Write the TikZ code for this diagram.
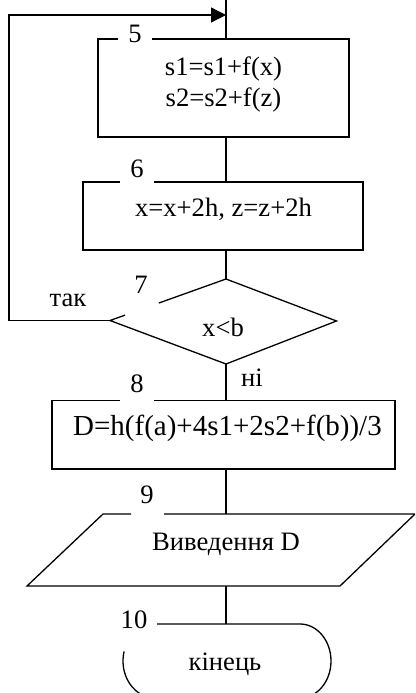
\documentclass[tikz,border=0pt]{standalone}
\usepackage{fontspec}
\setmainfont{Liberation Serif}
\usetikzlibrary{arrows.meta,calc}
\begin{document}
\begin{tikzpicture}[x=1pt,y=-1pt,line width=1.3pt,line join=miter,
  txt/.style={anchor=base,inner sep=0pt,font=\fontsize{26.6}{31}\selectfont},
  bigtxt/.style={anchor=base,inner sep=0pt,font=\fontsize{29}{34}\selectfont},
  flow/.style={draw},
  loopback/.style={-{Triangle[length=15pt,width=15pt]}}]
\clip (0,0) rectangle (415,693);
% named coordinates
\coordinate (top) at (226,0);
\coordinate (join) at (226,15);
% block 5
\coordinate (b5nw) at (98,39);  \coordinate (b5ne) at (349,39);
\coordinate (b5sw) at (98,137); \coordinate (b5se) at (349,137);
\coordinate (b5n) at (226,39);  \coordinate (b5s) at (226,137);
% block 6
\coordinate (b6nw) at (83,182);  \coordinate (b6ne) at (363,182);
\coordinate (b6sw) at (83,250);  \coordinate (b6se) at (363,250);
\coordinate (b6n) at (226,182);  \coordinate (b6s) at (226,250);
% decision 7
\coordinate (d7t) at (226,279);  \coordinate (d7l) at (110,320.5);
\coordinate (d7r) at (336.5,321);\coordinate (d7b) at (226,364);
\coordinate (loopc) at (9,320.5);
% block 8
\coordinate (b8nw) at (52,400.7); \coordinate (b8ne) at (395,400.7);
\coordinate (b8sw) at (52,469);   \coordinate (b8se) at (395,469);
\coordinate (b8n) at (226,400.7); \coordinate (b8s) at (226,469);
% output 9
\coordinate (p9tl) at (103,514); \coordinate (p9tr) at (415,514);
\coordinate (p9br) at (340,586); \coordinate (p9bl) at (27,586);
\coordinate (p9n) at (226,514);  \coordinate (p9s) at (226,586);
% terminator 10
\coordinate (t10n) at (226,624);

% shapes (with gaps for the numbers)
\draw[flow] (118,39) -- (b5nw) -- (b5sw) -- (b5se) -- (b5ne) -- (152,39);
\draw[flow] (120,182) -- (b6nw) -- (b6sw) -- (b6se) -- (b6ne) -- (154,182);
\draw[flow] ($(d7l)!0.13!(d7t)$) -- (d7l) -- (d7b) -- (d7r) -- (d7t) -- ($(d7l)!0.42!(d7t)$);
\draw[flow] (120,400.7) -- (b8nw) -- (b8sw) -- (b8se) -- (b8ne) -- (154,400.7);
\draw[flow] (131,514) -- (p9tl) -- (p9bl) -- (p9br) -- (p9tr) -- (164,514);
\draw[flow] (157,624) -- (300,624)
  arc[start angle=-90,end angle=90,x radius=31,y radius=37]
  -- (155,698)
  arc[start angle=90,end angle=195,x radius=32,y radius=37];

% connectors
\draw (top) -- (b5n);
\draw (b5s) -- (b6n);
\draw (b6s) -- (d7t);
\draw (d7b) -- (b8n);
\draw (b8s) -- (p9n);
\draw (p9s) -- (t10n);
\draw[loopback] (d7l) -- (loopc) |- (join);

% texts
\node[txt] (n5) at (135,43) {5};
\node[txt] (t5a) at (223.5,75) {s1=s1+f(x)};
\node[txt] (t5b) at (223.5,106) {s2=s2+f(z)};
\node[txt] (n6) at (137,177) {6};
\node[txt] (t6) at (223.5,216) {x=x+2h, z=z+2h};
\node[txt] (n7) at (141,293) {7};
\node[txt] (yes) at (68,306.5) {так};
\node[txt] (t7) at (223,336) {x<b};
\node[txt] (no) at (252,386.5) {ні};
\node[txt] (n8) at (137,392) {8};
\node[bigtxt] (t8) at (227.5,435) {D=h(f(a)+4s1+2s2+f(b))/3};
\node[txt] (n9) at (147,503) {9};
\node[txt] (t9) at (226,550) {Виведення D};
\node[txt] (n10) at (134,628) {10};
\node[txt] (t10) at (225,670) {кінець};
\end{tikzpicture}
\end{document}
